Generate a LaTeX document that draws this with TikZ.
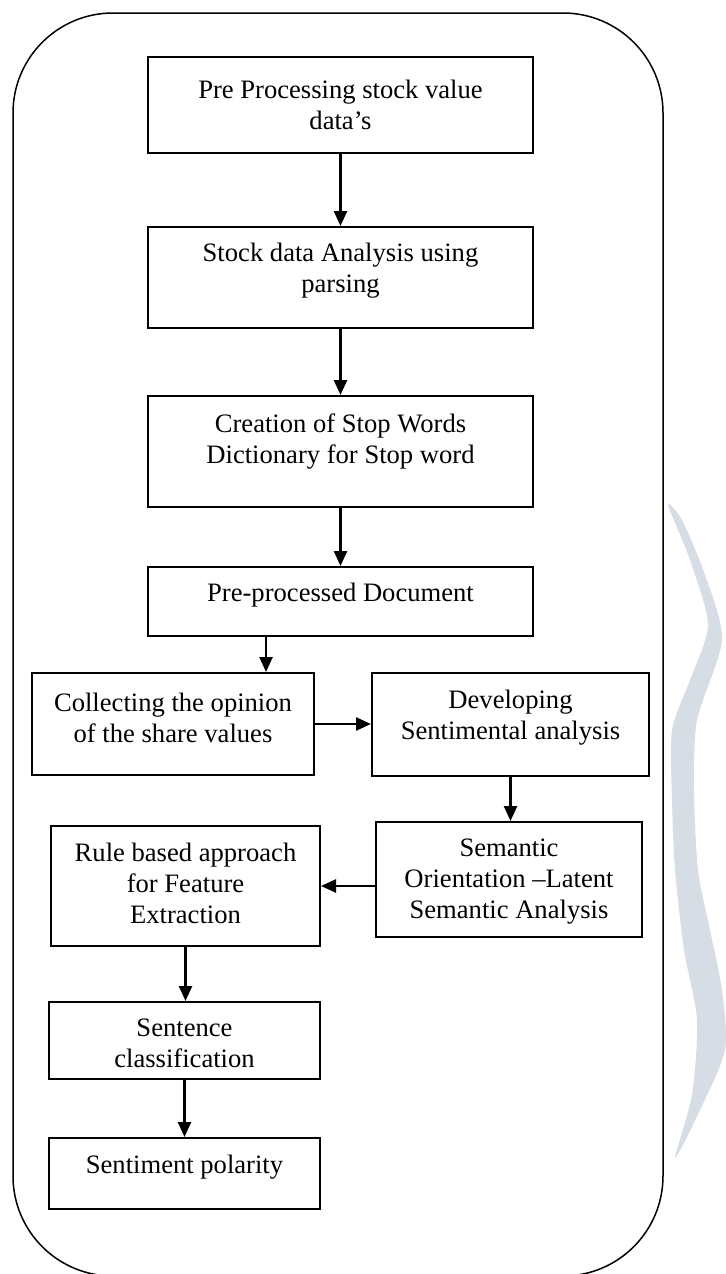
\documentclass[tikz,border=0pt]{standalone}
\usepackage{fontspec}
\setmainfont{Liberation Serif}
\usetikzlibrary{arrows.meta,fit}
\definecolor{wmark}{RGB}{214,221,228}
\begin{document}
\begin{tikzpicture}[x=0.5pt,y=-0.5pt,
  box/.style={draw, line width=1pt, inner sep=0pt},
  txt/.style={align=center, font=\fontsize{13.3}{15.5}\selectfont, inner sep=0pt},
  arr/.style={line width=1.25pt, -{Triangle[length=7.5pt,width=6.5pt]}},
  frame/.style={draw, line width=0.75pt, rounded corners=50pt, inner sep=0pt}]
\useasboundingbox (0,0) rectangle (725,1274);
% watermark
\fill[wmark] plot[smooth cycle, tension=0.45] coordinates {
  (668,505) (690,560) (708,625) (690,680) (672,730) (672,800) (675,870)
  (684,950) (697,1020) (692,1095) (675,1158)
  (700,1110) (725,1050) (722,990) (710,930) (698,870) (694,790)
  (697,720) (722,640) (705,575) (682,520)};
% frame
\node[frame, fit={(13,13) (663,1276)}] (outer) {};
% boxes
\node[box, fit={(148,57) (533,153)}] (b1) {};
\node[box, fit={(148,227) (533,328)}] (b2) {};
\node[box, fit={(148,396) (533,507)}] (b3) {};
\node[box, fit={(148,567) (533,636)}] (b4) {};
\node[box, fit={(32,673) (314,775)}] (b5) {};
\node[box, fit={(372,673) (649,776)}] (b6) {};
\node[box, fit={(376,822) (642,937)}] (b7) {};
\node[box, fit={(51,826) (320,946)}] (b8) {};
\node[box, fit={(49,1002) (320,1079)}] (b9) {};
\node[box, fit={(49,1138) (320,1209)}] (b10) {};
% texts
\node[txt] (t1) at (340.5,104.5) {Pre Processing stock value\\data’s};
\node[txt] (t2) at (340.5,271) {Stock data Analysis using\\parsing};
\node[txt] (t3) at (340.5,441.5) {Creation of Stop Words\\Dictionary for Stop word};
\node[txt] (t4) at (340.5,595) {Pre-processed Document};
\node[txt] (t5) at (173,717.5) {Collecting the opinion\\of the share values};
\node[txt] (t6) at (510.5,717.5) {Developing\\Sentimental analysis};
\node[txt] (t7) at (509,882) {Semantic\\Orientation –Latent\\Semantic Analysis};
\node[txt] (t8) at (185.5,883) {Rule based approach\\for Feature\\Extraction};
\node[txt] (t9) at (184.5,1043) {Sentence\\classification};
\node[txt] (t10) at (184.5,1167) {Sentiment polarity};
% connectors
\coordinate (c45) at (266,0);
\draw[arr] (b1.south) -- (b2.north);
\draw[arr] (b2.south) -- (b3.north);
\draw[arr] (b3.south) -- (b4.north);
\draw[arr] (b4.south -| c45) -- (b5.north -| c45);
\draw[arr] (b5.east) -- (b5.east -| b6.west);
\draw[arr] (b6.south) -- (b6.south |- b7.north);
\draw[arr] (b7.west |- b8.east) -- (b8.east);
\draw[arr] (b8.south) -- (b8.south |- b9.north);
\draw[arr] (b9.south) -- (b10.north);
\end{tikzpicture}
\end{document}
